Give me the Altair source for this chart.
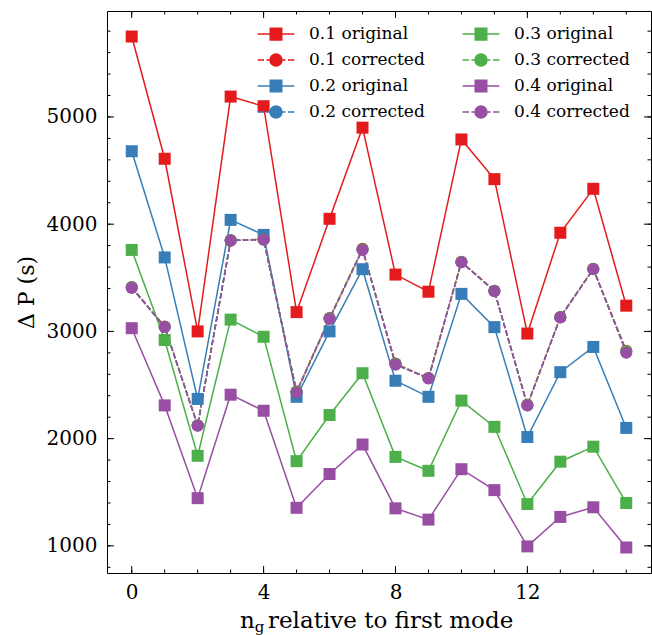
import altair as alt
import pandas as pd

# ---------------- data ----------------
n_g = list(range(16))
orig_01 = [5750, 4610, 3000, 5190, 5100, 3180, 4050, 4900, 3530, 3370, 4790, 4420, 2980, 3920, 4330, 3240]
orig_02 = [4680, 3690, 2370, 4040, 3900, 2390, 3000, 3580, 2540, 2390, 3350, 3040, 2015, 2620, 2855, 2100]
orig_03 = [3760, 2920, 1840, 3110, 2950, 1790, 2220, 2610, 1830, 1700, 2355, 2110, 1390, 1785, 1925, 1400]
orig_04 = [3030, 2310, 1445, 2410, 2260, 1355, 1670, 1945, 1350, 1245, 1715, 1520, 995, 1270, 1360, 985]
corr_01 = [3415, 3045, 2125, 3845, 3860, 2440, 3125, 3770, 2700, 2565, 3650, 3380, 2315, 3135, 3585, 2820]
corr_02 = [3410, 3040, 2122, 3848, 3857, 2435, 3120, 3765, 2695, 2562, 3647, 3377, 2312, 3132, 3582, 2812]
corr_03 = [3412, 3042, 2124, 3852, 3858, 2437, 3122, 3767, 2697, 2563, 3648, 3378, 2313, 3133, 3583, 2815]
corr_04 = [3405, 3040, 2120, 3850, 3855, 2430, 3115, 3760, 2690, 2560, 3645, 3375, 2310, 3130, 3580, 2800]

x_major = [0, 4, 8, 12]
x_minor = list(range(0, 16))
y_major = [1000, 2000, 3000, 4000, 5000]
y_minor = list(range(800, 6000, 200))

series_defs = [
    ("0.1 original", orig_01, "original"),
    ("0.1 corrected", corr_01, "corrected"),
    ("0.2 original", orig_02, "original"),
    ("0.2 corrected", corr_02, "corrected"),
    ("0.3 original", orig_03, "original"),
    ("0.3 corrected", corr_03, "corrected"),
    ("0.4 original", orig_04, "original"),
    ("0.4 corrected", corr_04, "corrected"),
]
rows = []
for name, vals, kind in series_defs:
    for xi, v in zip(n_g, vals):
        rows.append({"n": xi, "dp": v, "series": name, "kind": kind})
df = pd.DataFrame(rows)

palette = {"0.1": "#e41a1c", "0.2": "#377eb8", "0.3": "#4daf4a", "0.4": "#984ea3"}
legend_order = [s[0] for s in series_defs]
legend_colors = [palette[s.split()[0]] for s in legend_order]

SQ_LINE = "M-2.3,0H2.3M-0.72,-0.72H0.72V0.72H-0.72Z"
CIRC_DASH = ("M-2.3,0H-1.5M-1.2,0H-0.75M0.75,0H1.2M1.5,0H2.3"
             "M0.75,0A0.75,0.75,0,1,1,-0.75,0A0.75,0.75,0,1,1,0.75,0Z")
legend_shapes = [SQ_LINE if "original" in s else CIRC_DASH for s in legend_order]

W, H = 544, 562
FONT = "DejaVu Serif"

xs = alt.Scale(domain=[-0.75, 15.75], nice=False, zero=False)
ys = alt.Scale(domain=[747, 5988], nice=False, zero=False)
cs = alt.Scale(domain=legend_order, range=legend_colors)

x_lab = alt.Axis(orient="bottom", values=x_major, ticks=False, domain=False, grid=False,
                 labelFont=FONT, labelFontSize=20, labelColor="black", labelPadding=9,
                 format="d", title=None)
y_lab = alt.Axis(orient="left", values=y_major, ticks=False, domain=False, grid=False,
                 labelFont=FONT, labelFontSize=20, labelColor="black", labelPadding=10,
                 format="d",
                 title="Δ P (s)", titleFont=FONT, titleFontSize=22, titleFontWeight="normal",
                 titleColor="black", titlePadding=8)

leg = alt.Legend(orient="none", legendX=160, legendY=14, columns=2, columnPadding=34,
                 rowPadding=8, labelFont=FONT, labelFontSize=17, labelColor="black",
                 labelOffset=24, symbolSize=256, symbolStrokeWidth=1.5, symbolOpacity=1,
                 title=None, padding=0)

base = alt.Chart(df)
color_enc = alt.Color("series:N", scale=cs, legend=leg)
x_enc = alt.X("n:Q", scale=xs, axis=x_lab)
y_enc = alt.Y("dp:Q", scale=ys, axis=y_lab)

lines_orig = base.transform_filter(alt.datum.kind == "original").mark_line(strokeWidth=1.5).encode(
    x=x_enc, y=y_enc, color=color_enc)
lines_corr = base.transform_filter(alt.datum.kind == "corrected").mark_line(
    strokeWidth=1.5, strokeDash=[5.5, 2.4]).encode(x=x_enc, y=y_enc, color=color_enc)
squares = base.transform_filter(alt.datum.kind == "original").mark_square(size=144, opacity=1).encode(
    x=x_enc, y=y_enc, color=color_enc)
circles = base.transform_filter(alt.datum.kind == "corrected").mark_circle(size=144, opacity=1).encode(
    x=x_enc, y=y_enc, color=color_enc)
legend_layer = base.transform_filter("false").mark_point(filled=True, opacity=1, size=256).encode(
    x=x_enc, y=y_enc,
    color=color_enc,
    stroke=alt.Stroke("series:N", scale=alt.Scale(domain=legend_order, range=legend_colors), legend=leg),
    shape=alt.Shape("series:N", scale=alt.Scale(domain=legend_order, range=legend_shapes), legend=leg),
)


# inward tick marks on all four sides (positions from the scales, lengths are styling)
def x_ticks(values, length, top):
    d = pd.DataFrame({"n": values})
    y0, y1 = (0, length) if top else (H, H - length)
    return alt.Chart(d).mark_rule(color="black", strokeWidth=1).encode(
        x=x_enc, y=alt.value(y0), y2=alt.value(y1))


def y_ticks(values, length, right):
    d = pd.DataFrame({"dp": values})
    x0, x1 = (W, W - length) if right else (0, length)
    return alt.Chart(d).mark_rule(color="black", strokeWidth=1).encode(
        y=y_enc, x=alt.value(x0), x2=alt.value(x1))


tick_layers = [
    x_ticks(x_minor, 3.5, False), x_ticks(x_major, 7, False),
    x_ticks(x_minor, 3.5, True), x_ticks(x_major, 7, True),
    y_ticks(y_minor, 3.5, False), y_ticks(y_major, 7, False),
    y_ticks(y_minor, 3.5, True), y_ticks(y_major, 7, True),
]

title_df = pd.DataFrame({"t": [0]})
TF = 23
t_start = 133
t_base = 617
title_n = alt.Chart(title_df).mark_text(text="n", font=FONT, fontSize=TF, align="left",
                                        baseline="alphabetic", color="black").encode(
    x=alt.value(t_start), y=alt.value(t_base))
title_g = alt.Chart(title_df).mark_text(text="g", font=FONT, fontSize=15, align="left",
                                        baseline="alphabetic", color="black").encode(
    x=alt.value(t_start + 14.8), y=alt.value(t_base + 4))
title_rest = alt.Chart(title_df).mark_text(text="relative to first mode", font=FONT, fontSize=TF,
                                           align="left", baseline="alphabetic", color="black").encode(
    x=alt.value(t_start + 28), y=alt.value(t_base))

chart = alt.layer(
    lines_orig, *tick_layers, lines_corr, squares, circles, legend_layer,
    title_n, title_g, title_rest
).properties(
    width=W, height=H,
    autosize=alt.AutoSizeParams(type="none"),
    padding={"left": 107, "top": 11, "right": 1, "bottom": 62},
    background="white",
).configure_view(stroke="black", strokeWidth=1)

chart.save("out.html", embed_options={"renderer": "svg", "actions": False})
